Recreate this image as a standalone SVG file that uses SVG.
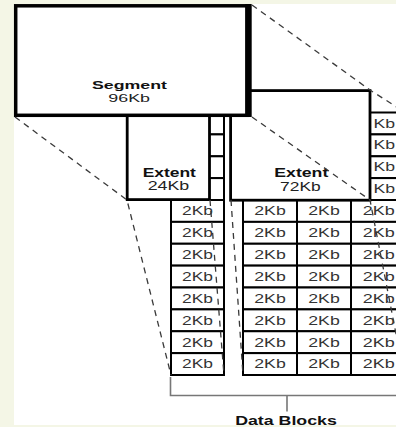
<svg xmlns="http://www.w3.org/2000/svg" width="396" height="427" viewBox="0 0 396 427">
<style>
.bg{fill:#f4f6e6}
.cell{fill:#fff;stroke:#000;stroke-width:2}
.box{fill:#fff;stroke:#000;stroke-width:2.8}
.seg{fill:#fff;stroke:#000;stroke-width:3.5}
.dash{fill:none;stroke:#3a3a3a;stroke-width:1.3;stroke-dasharray:6 5}
.brk{fill:none;stroke:#777;stroke-width:1.6}
.t{font-family:"Liberation Sans",Arial,sans-serif;font-size:12px;fill:#222;text-anchor:middle}
.b{font-weight:bold;fill:#111}
.c{font-family:"Liberation Sans",Arial,sans-serif;font-size:12px;fill:#333;text-anchor:middle}
</style>
<rect class="bg" x="0" y="0" width="396" height="427"/>
<rect x="14" y="4" width="382" height="421" fill="#fff"/>

<g id="blocks-col1">
<rect class="cell" x="171" y="112.5" width="53" height="21.9"/>
<rect class="cell" x="171" y="134.4" width="53" height="21.9"/>
<rect class="cell" x="171" y="156.3" width="53" height="21.9"/>
<rect class="cell" x="171" y="178.1" width="53" height="21.9"/>
<rect class="cell" x="171" y="200" width="53" height="21.875"/>
<rect class="cell" x="171" y="221.875" width="53" height="21.875"/>
<rect class="cell" x="171" y="243.75" width="53" height="21.875"/>
<rect class="cell" x="171" y="265.625" width="53" height="21.875"/>
<rect class="cell" x="171" y="287.5" width="53" height="21.875"/>
<rect class="cell" x="171" y="309.375" width="53" height="21.875"/>
<rect class="cell" x="171" y="331.25" width="53" height="21.875"/>
<rect class="cell" x="171" y="353.125" width="53" height="21.875"/>
<text class="c" x="197.5" y="215.2" textLength="31" lengthAdjust="spacingAndGlyphs">2Kb</text>
<text class="c" x="197.5" y="237.1" textLength="31" lengthAdjust="spacingAndGlyphs">2Kb</text>
<text class="c" x="197.5" y="259" textLength="31" lengthAdjust="spacingAndGlyphs">2Kb</text>
<text class="c" x="197.5" y="280.8" textLength="31" lengthAdjust="spacingAndGlyphs">2Kb</text>
<text class="c" x="197.5" y="302.7" textLength="31" lengthAdjust="spacingAndGlyphs">2Kb</text>
<text class="c" x="197.5" y="324.6" textLength="31" lengthAdjust="spacingAndGlyphs">2Kb</text>
<text class="c" x="197.5" y="346.5" textLength="31" lengthAdjust="spacingAndGlyphs">2Kb</text>
<text class="c" x="197.5" y="368.3" textLength="31" lengthAdjust="spacingAndGlyphs">2Kb</text>
</g>

<g id="blocks-col2">
<rect class="cell" x="243" y="200" width="54" height="21.875"/>
<rect class="cell" x="243" y="221.875" width="54" height="21.875"/>
<rect class="cell" x="243" y="243.75" width="54" height="21.875"/>
<rect class="cell" x="243" y="265.625" width="54" height="21.875"/>
<rect class="cell" x="243" y="287.5" width="54" height="21.875"/>
<rect class="cell" x="243" y="309.375" width="54" height="21.875"/>
<rect class="cell" x="243" y="331.25" width="54" height="21.875"/>
<rect class="cell" x="243" y="353.125" width="54" height="21.875"/>
<text class="c" x="270" y="215.2" textLength="31.5" lengthAdjust="spacingAndGlyphs">2Kb</text>
<text class="c" x="270" y="237.1" textLength="31.5" lengthAdjust="spacingAndGlyphs">2Kb</text>
<text class="c" x="270" y="259" textLength="31.5" lengthAdjust="spacingAndGlyphs">2Kb</text>
<text class="c" x="270" y="280.8" textLength="31.5" lengthAdjust="spacingAndGlyphs">2Kb</text>
<text class="c" x="270" y="302.7" textLength="31.5" lengthAdjust="spacingAndGlyphs">2Kb</text>
<text class="c" x="270" y="324.6" textLength="31.5" lengthAdjust="spacingAndGlyphs">2Kb</text>
<text class="c" x="270" y="346.5" textLength="31.5" lengthAdjust="spacingAndGlyphs">2Kb</text>
<text class="c" x="270" y="368.3" textLength="31.5" lengthAdjust="spacingAndGlyphs">2Kb</text>
</g>

<g id="blocks-col3">
<rect class="cell" x="297" y="200" width="54" height="21.875"/>
<rect class="cell" x="297" y="221.875" width="54" height="21.875"/>
<rect class="cell" x="297" y="243.75" width="54" height="21.875"/>
<rect class="cell" x="297" y="265.625" width="54" height="21.875"/>
<rect class="cell" x="297" y="287.5" width="54" height="21.875"/>
<rect class="cell" x="297" y="309.375" width="54" height="21.875"/>
<rect class="cell" x="297" y="331.25" width="54" height="21.875"/>
<rect class="cell" x="297" y="353.125" width="54" height="21.875"/>
<text class="c" x="324" y="215.2" textLength="31.5" lengthAdjust="spacingAndGlyphs">2Kb</text>
<text class="c" x="324" y="237.1" textLength="31.5" lengthAdjust="spacingAndGlyphs">2Kb</text>
<text class="c" x="324" y="259" textLength="31.5" lengthAdjust="spacingAndGlyphs">2Kb</text>
<text class="c" x="324" y="280.8" textLength="31.5" lengthAdjust="spacingAndGlyphs">2Kb</text>
<text class="c" x="324" y="302.7" textLength="31.5" lengthAdjust="spacingAndGlyphs">2Kb</text>
<text class="c" x="324" y="324.6" textLength="31.5" lengthAdjust="spacingAndGlyphs">2Kb</text>
<text class="c" x="324" y="346.5" textLength="31.5" lengthAdjust="spacingAndGlyphs">2Kb</text>
<text class="c" x="324" y="368.3" textLength="31.5" lengthAdjust="spacingAndGlyphs">2Kb</text>
</g>

<g id="blocks-col4">
<rect class="cell" x="351" y="112.5" width="54" height="21.9"/>
<rect class="cell" x="351" y="134.4" width="54" height="21.9"/>
<rect class="cell" x="351" y="156.3" width="54" height="21.9"/>
<rect class="cell" x="351" y="178.1" width="54" height="21.9"/>
<rect class="cell" x="351" y="200" width="54" height="21.875"/>
<rect class="cell" x="351" y="221.875" width="54" height="21.875"/>
<rect class="cell" x="351" y="243.75" width="54" height="21.875"/>
<rect class="cell" x="351" y="265.625" width="54" height="21.875"/>
<rect class="cell" x="351" y="287.5" width="54" height="21.875"/>
<rect class="cell" x="351" y="309.375" width="54" height="21.875"/>
<rect class="cell" x="351" y="331.25" width="54" height="21.875"/>
<rect class="cell" x="351" y="353.125" width="54" height="21.875"/>
<text class="c" x="378.8" y="215.2" textLength="32" lengthAdjust="spacingAndGlyphs">2Kb</text>
<text class="c" x="378.8" y="237.1" textLength="32" lengthAdjust="spacingAndGlyphs">2Kb</text>
<text class="c" x="378.8" y="259" textLength="32" lengthAdjust="spacingAndGlyphs">2Kb</text>
<text class="c" x="378.8" y="280.8" textLength="32" lengthAdjust="spacingAndGlyphs">2Kb</text>
<text class="c" x="378.8" y="302.7" textLength="32" lengthAdjust="spacingAndGlyphs">2Kb</text>
<text class="c" x="378.8" y="324.6" textLength="32" lengthAdjust="spacingAndGlyphs">2Kb</text>
<text class="c" x="378.8" y="346.5" textLength="32" lengthAdjust="spacingAndGlyphs">2Kb</text>
<text class="c" x="378.8" y="368.3" textLength="32" lengthAdjust="spacingAndGlyphs">2Kb</text>
</g>

<g id="extent-72">
<rect class="box" x="230.6" y="90.6" width="139.4" height="109.6"/>
<text class="t b" x="301.3" y="176.7" textLength="54" lengthAdjust="spacingAndGlyphs">Extent</text>
<text class="t" x="300.4" y="190.6" textLength="40.6" lengthAdjust="spacingAndGlyphs">72Kb</text>
<text class="c" x="384.3" y="127.5" textLength="21.6" lengthAdjust="spacingAndGlyphs">Kb</text>
<text class="c" x="384.3" y="149.4" textLength="21.6" lengthAdjust="spacingAndGlyphs">Kb</text>
<text class="c" x="384.3" y="171.3" textLength="21.6" lengthAdjust="spacingAndGlyphs">Kb</text>
<text class="c" x="384.3" y="193.1" textLength="21.6" lengthAdjust="spacingAndGlyphs">Kb</text>
</g>

<g id="extent-24">
<rect class="box" x="127.2" y="112" width="82.3" height="87.6"/>
<text class="t b" x="169.3" y="176.7" textLength="53.3" lengthAdjust="spacingAndGlyphs">Extent</text>
<text class="t" x="168.5" y="190" textLength="41.6" lengthAdjust="spacingAndGlyphs">24Kb</text>
</g>

<g id="segment">
<rect class="seg" x="15.7" y="5.8" width="232" height="109.5"/>
<line x1="248.4" y1="4" x2="248.4" y2="117" stroke="#000" stroke-width="6.6"/>
<text class="t b" x="129.5" y="89.3" textLength="75" lengthAdjust="spacingAndGlyphs" style="font-size:11.5px">Segment</text>
<text class="t" x="129.2" y="102.2" textLength="41.7" lengthAdjust="spacingAndGlyphs" style="font-size:10.5px">96Kb</text>
</g>

<g id="connectors">
<path class="dash" d="M15,117 L127,200 L171,375"/>
<path class="dash" d="M252,5 L370,90 L406,113"/>
<path class="dash" d="M252,117 L370,200 L404,375"/>
<path class="dash" d="M210,200 L224,375"/>
<path class="dash" d="M231,200 L243,375"/>
<path class="brk" d="M170.5,377 L170.5,395.5 L396,395.5 M287,395.5 L287,411.5"/>
</g>

<g id="data-blocks-label">
<text class="t b" x="286" y="425.3" textLength="101.7" lengthAdjust="spacingAndGlyphs">Data Blocks</text>
</g>
</svg>
